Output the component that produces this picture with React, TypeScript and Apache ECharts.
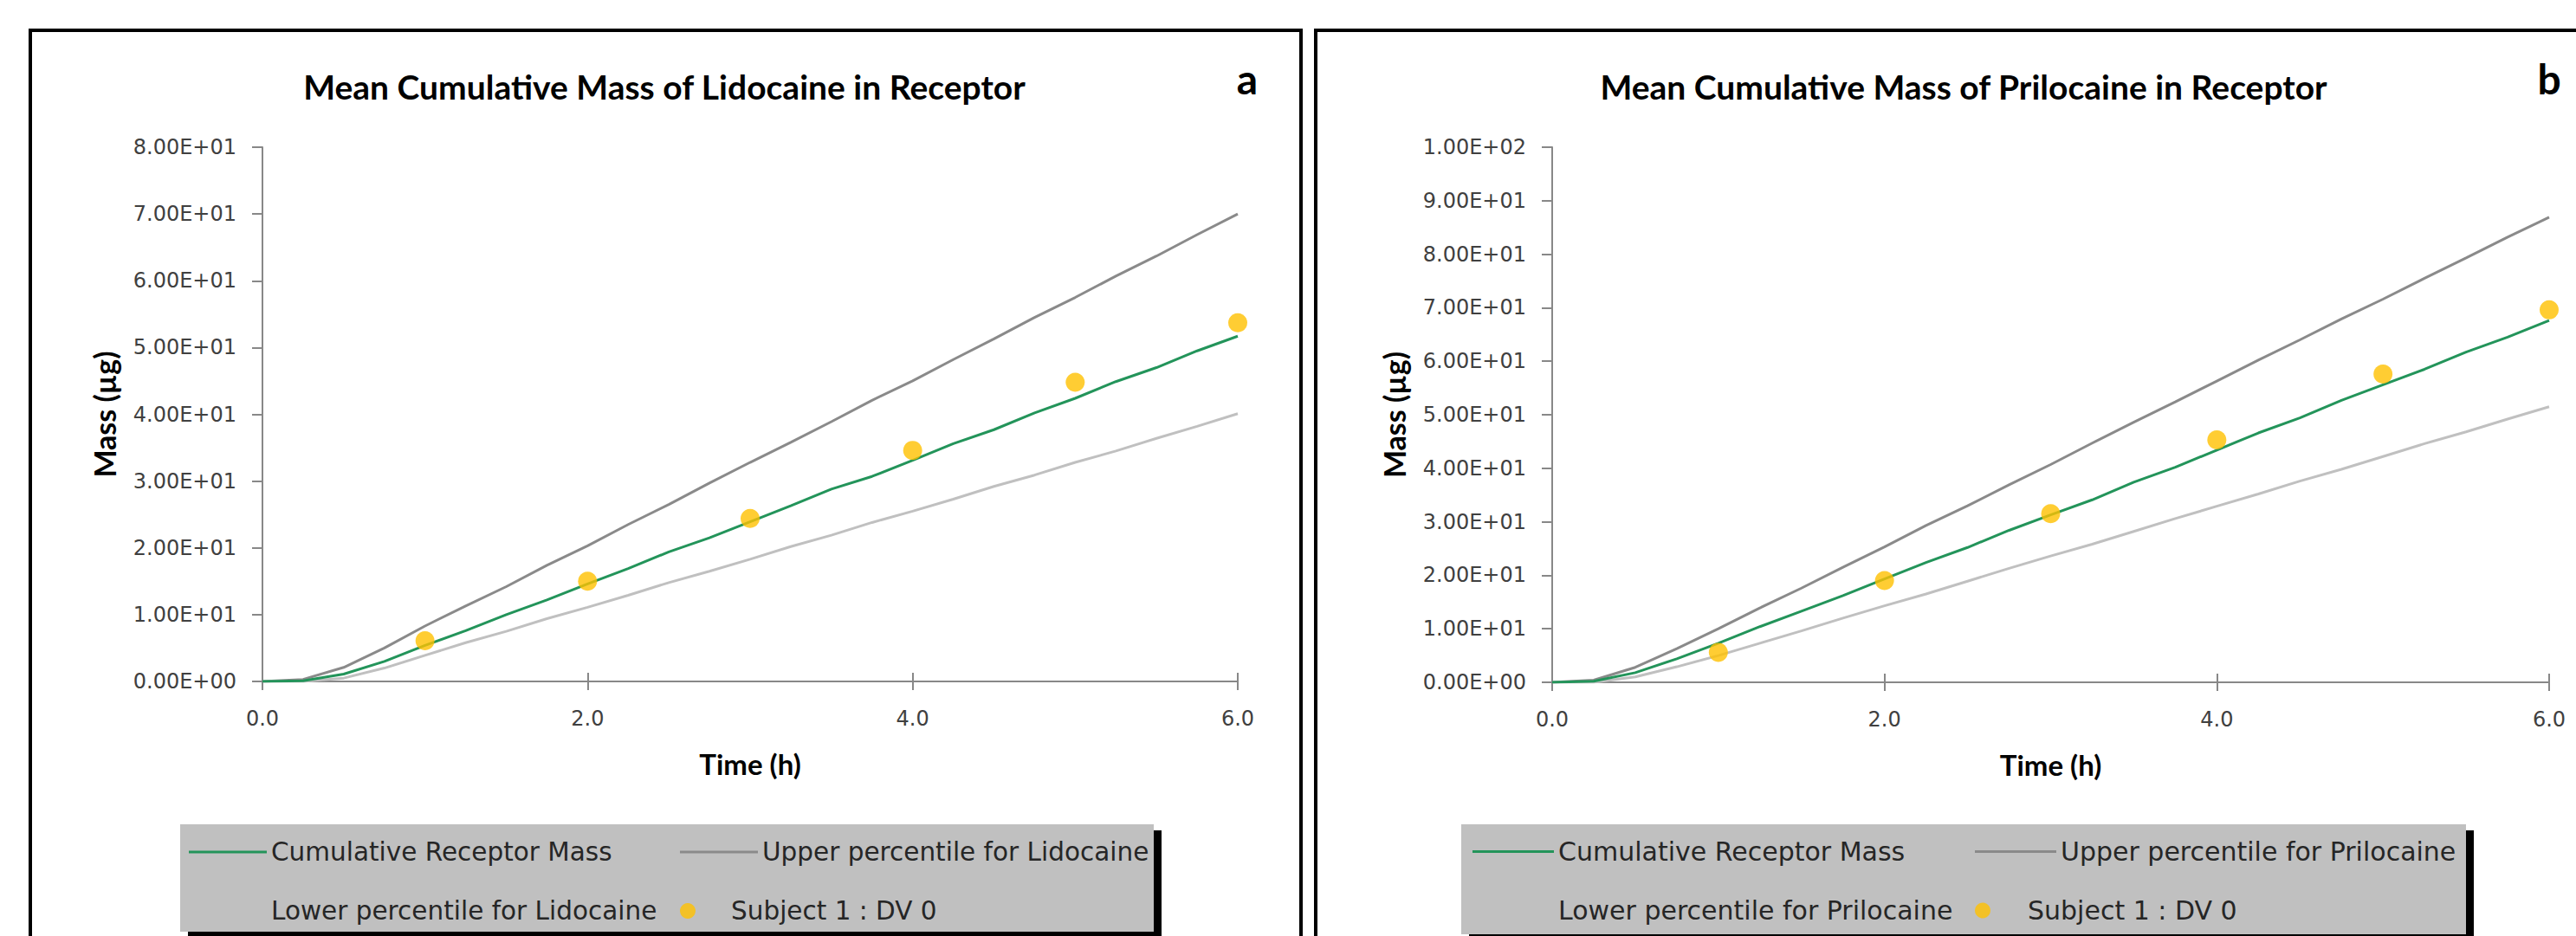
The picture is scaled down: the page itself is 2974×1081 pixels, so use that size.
import React, { useEffect, useRef } from "react";
import * as echarts from "echarts";

// ---------- data ----------
const TIME_H = [0, 0.25, 0.5, 0.75, 1, 1.25, 1.5, 1.75, 2, 2.25, 2.5, 2.75, 3, 3.25, 3.5, 3.75, 4, 4.25, 4.5, 4.75, 5, 5.25, 5.5, 5.75, 6];

const LIDO_MEAN = [0, 0.1, 1.1, 3.0, 5.4, 7.6, 10.0, 12.2, 14.6, 16.9, 19.4, 21.5, 23.9, 26.3, 28.8, 30.7, 33.1, 35.6, 37.7, 40.2, 42.4, 44.9, 47.0, 49.5, 51.7];
const LIDO_UPPER = [0, 0.3, 2.1, 5.0, 8.3, 11.3, 14.2, 17.4, 20.3, 23.5, 26.5, 29.7, 32.8, 35.8, 38.9, 42.1, 45.0, 48.2, 51.3, 54.5, 57.5, 60.7, 63.7, 66.9, 70.0];
const LIDO_LOWER = [0, 0, 0.5, 2.0, 3.9, 5.8, 7.5, 9.4, 11.1, 12.9, 14.8, 16.5, 18.3, 20.2, 21.9, 23.8, 25.5, 27.3, 29.2, 30.9, 32.8, 34.5, 36.4, 38.2, 40.1];

const PRILO_MEAN = [0, 0.2, 1.8, 4.4, 7.3, 10.4, 13.3, 16.2, 19.3, 22.4, 25.2, 28.4, 31.3, 34.1, 37.4, 40.2, 43.4, 46.6, 49.4, 52.7, 55.6, 58.5, 61.7, 64.5, 67.6];
const PRILO_UPPER = [0, 0.4, 2.8, 6.3, 10.0, 13.9, 17.6, 21.5, 25.3, 29.3, 33.0, 36.9, 40.7, 44.7, 48.6, 52.4, 56.3, 60.2, 64.0, 67.9, 71.6, 75.5, 79.3, 83.2, 86.9];
const PRILO_LOWER = [0, 0, 1.0, 2.9, 5.0, 7.3, 9.6, 12.0, 14.3, 16.5, 18.9, 21.3, 23.6, 25.8, 28.2, 30.6, 32.9, 35.2, 37.6, 39.8, 42.2, 44.6, 46.8, 49.2, 51.5];

const OBS_TIME_H = [1, 2, 3, 4, 5, 6];
const LIDO_OBS = [6.1, 15.0, 24.4, 34.6, 44.8, 53.7];
const PRILO_OBS = [5.6, 19.0, 31.5, 45.3, 57.6, 69.6];

const TITLE_A = "Mean Cumulative Mass of Lidocaine in Receptor";
const TITLE_B = "Mean Cumulative Mass of Prilocaine in Receptor";
const NAME_MEAN = "Cumulative Receptor Mass";
const NAME_OBS = "Subject 1 : DV 0";
const NAME_UP_A = "Upper percentile for Lidocaine";
const NAME_LO_A = "Lower percentile for Lidocaine";
const NAME_UP_B = "Upper percentile for Prilocaine";
const NAME_LO_B = "Lower percentile for Prilocaine";
const X_NAME = "Time (h)";
const Y_NAME = "Mass (µg)";

// ---------- styles ----------
const GREEN = "#23945a";
const DARK_GREY = "#8a8a8a";
const LIGHT_GREY = "#c0c0c0";
const ORANGE = "#ffc000";
const AXIS = "#888888";
const LABEL = "#404040";
const LABEL_FONT = "DejaVu Sans";
const HEAD_FONT = "Lato";
const LINE_ICON = "path://M0,0H30V1H0Z";

const pairs = (xs: number[], ys: number[]) => xs.map((x, i) => [x, ys[i]]);

function fmtSci(v: number): string {
  const s = v.toExponential(2).toUpperCase();
  const m = s.match(/^(-?[\d.]+)E([+-])(\d+)$/);
  if (!m) return s;
  return m[1] + "E" + m[2] + m[3].padStart(2, "0");
}

function xAxes(gridIndex: number) {
  const common = {
    type: "value",
    gridIndex,
    min: 0,
    max: 6,
    interval: 2,
    position: "bottom",
    splitLine: { show: false },
  };
  return [
    {
      ...common,
      axisLine: { show: true, onZero: true, lineStyle: { color: AXIS, width: 2 } },
      axisTick: { show: true, length: 10, lineStyle: { color: AXIS, width: 2 } },
      axisLabel: {
        formatter: (v: number) => v.toFixed(1),
        fontFamily: LABEL_FONT,
        fontSize: 24,
        color: LABEL,
        margin: 31,
      },
      name: X_NAME,
      nameLocation: "middle",
      nameGap: 78,
      nameTextStyle: { fontFamily: HEAD_FONT, fontWeight: "bold", fontSize: 33, color: "#000" },
    },
    {
      ...common,
      axisLine: { show: false },
      axisTick: { show: true, inside: true, length: 10, lineStyle: { color: AXIS, width: 2 } },
      axisLabel: { show: false },
    },
  ];
}

function yAxis(gridIndex: number, max: number) {
  return {
    type: "value",
    gridIndex,
    min: 0,
    max,
    interval: 10,
    splitLine: { show: false },
    axisLine: { show: true, lineStyle: { color: AXIS, width: 2 } },
    axisTick: { show: true, length: 12, lineStyle: { color: AXIS, width: 2 } },
    axisLabel: {
      formatter: fmtSci,
      fontFamily: LABEL_FONT,
      fontSize: 24,
      color: LABEL,
      margin: 30,
    },
    name: Y_NAME,
    nameLocation: "middle",
    nameGap: 166,
    nameTextStyle: { fontFamily: HEAD_FONT, fontWeight: "bold", fontSize: 34, color: "#000" },
  };
}

function lineSeries(name: string, xi: number, yi: number, data: number[], color: string, z: number) {
  return {
    type: "line",
    name,
    xAxisIndex: xi,
    yAxisIndex: yi,
    data: pairs(TIME_H, data),
    symbol: "none",
    showSymbol: false,
    lineStyle: { color, width: 3 },
    itemStyle: { color },
    z,
  };
}

function obsSeries(xi: number, yi: number, data: number[]) {
  return {
    type: "scatter",
    name: NAME_OBS,
    xAxisIndex: xi,
    yAxisIndex: yi,
    data: pairs(OBS_TIME_H, data),
    symbol: "circle",
    symbolSize: 22,
    itemStyle: { color: ORANGE },
    z: 6,
  };
}

function legend(
  left: number,
  items: { name: string; icon: string }[],
  o: { padding: number[]; gap: number; iw: number; tw: number; lh: number; width: number; fs: number }
) {
  return {
    show: true,
    orient: "horizontal",
    left,
    top: 952,
    width: o.width,
    padding: o.padding,
    itemGap: o.gap,
    itemWidth: o.iw,
    itemHeight: 18,
    backgroundColor: "#c0c0c0",
    borderWidth: 0,
    selectedMode: false,
    symbolKeepAspect: true,
    z: 3,
    data: items,
    textStyle: {
      fontFamily: LABEL_FONT,
      fontSize: o.fs,
      color: "#262626",
      width: o.tw,
      lineHeight: o.lh,
      overflow: "none",
    },
  };
}

export default function App() {
  const ref = useRef<HTMLDivElement>(null);

  useEffect(() => {
    if (!ref.current) return;
    const chart = echarts.init(ref.current, undefined, { renderer: "svg" });

    const option: any = {
      animation: false,
      backgroundColor: "#ffffff",
      grid: [
        { left: 303, top: 170, width: 1126, height: 617 },
        { left: 1792, top: 170, width: 1151, height: 618 },
      ],
      xAxis: [...xAxes(0), ...xAxes(1)],
      yAxis: [yAxis(0, 80), yAxis(1, 100)],
      legend: [
        legend(
          208,
          [
            { name: NAME_MEAN, icon: LINE_ICON },
            { name: NAME_UP_A, icon: LINE_ICON },
            { name: NAME_LO_A, icon: LINE_ICON },
            { name: NAME_OBS, icon: "circle" },
          ],
          { padding: [9, 2, 1, 10], gap: 22, iw: 90, tw: 450, lh: 46, width: 1122, fs: 29.5 }
        ),
        legend(
          1687,
          [
            { name: NAME_MEAN, icon: LINE_ICON },
            { name: NAME_UP_B, icon: LINE_ICON },
            { name: NAME_LO_B, icon: LINE_ICON },
            { name: NAME_OBS, icon: "circle" },
          ],
          { padding: [5, 2, 1, 13], gap: 15, iw: 94, tw: 466, lh: 53, width: 1152, fs: 30 }
        ),
      ],
      series: [
        lineSeries(NAME_MEAN, 0, 0, LIDO_MEAN, GREEN, 5),
        lineSeries(NAME_UP_A, 0, 0, LIDO_UPPER, DARK_GREY, 4),
        lineSeries(NAME_LO_A, 0, 0, LIDO_LOWER, LIGHT_GREY, 4),
        obsSeries(0, 0, LIDO_OBS),
        lineSeries(NAME_MEAN, 2, 1, PRILO_MEAN, GREEN, 5),
        lineSeries(NAME_UP_B, 2, 1, PRILO_UPPER, DARK_GREY, 4),
        lineSeries(NAME_LO_B, 2, 1, PRILO_LOWER, LIGHT_GREY, 4),
        obsSeries(2, 1, PRILO_OBS),
      ],
      graphic: [
        // legend drop shadows
        { type: "rect", z: 0, shape: { x: 217, y: 959, width: 1124, height: 140 }, style: { fill: "#000" } },
        { type: "rect", z: 0, shape: { x: 1696, y: 959, width: 1160, height: 140 }, style: { fill: "#000" } },
        // panel frames
        { type: "rect", z: 10, shape: { x: 35, y: 35, width: 1467, height: 1100 }, style: { fill: "none", stroke: "#000", lineWidth: 4 } },
        { type: "rect", z: 10, shape: { x: 1519, y: 35, width: 1520, height: 1100 }, style: { fill: "none", stroke: "#000", lineWidth: 4 } },
        // titles
        {
          type: "text",
          z: 10,
          x: 767,
          y: 100,
          style: { text: TITLE_A, align: "center", verticalAlign: "middle", fontFamily: HEAD_FONT, fontWeight: "bold", fontSize: 39, fill: "#000" },
        },
        {
          type: "text",
          z: 10,
          x: 2267,
          y: 100,
          style: { text: TITLE_B, align: "center", verticalAlign: "middle", fontFamily: HEAD_FONT, fontWeight: "bold", fontSize: 39, fill: "#000" },
        },
        {
          type: "text",
          z: 10,
          x: 1440,
          y: 90,
          style: { text: "a", align: "center", verticalAlign: "middle", fontFamily: HEAD_FONT, fontWeight: "bold", fontSize: 48, fill: "#000" },
        },
        {
          type: "text",
          z: 10,
          x: 2943,
          y: 90,
          style: { text: "b", align: "center", verticalAlign: "middle", fontFamily: HEAD_FONT, fontWeight: "bold", fontSize: 48, fill: "#000" },
        },
      ],
    };

    chart.setOption(option);
    return () => chart.dispose();
  }, []);

  return (
    <div
      ref={ref}
      style={{ position: "fixed", left: 0, top: 0, width: 2974, height: 1081, background: "#fff" }}
    />
  );
}
